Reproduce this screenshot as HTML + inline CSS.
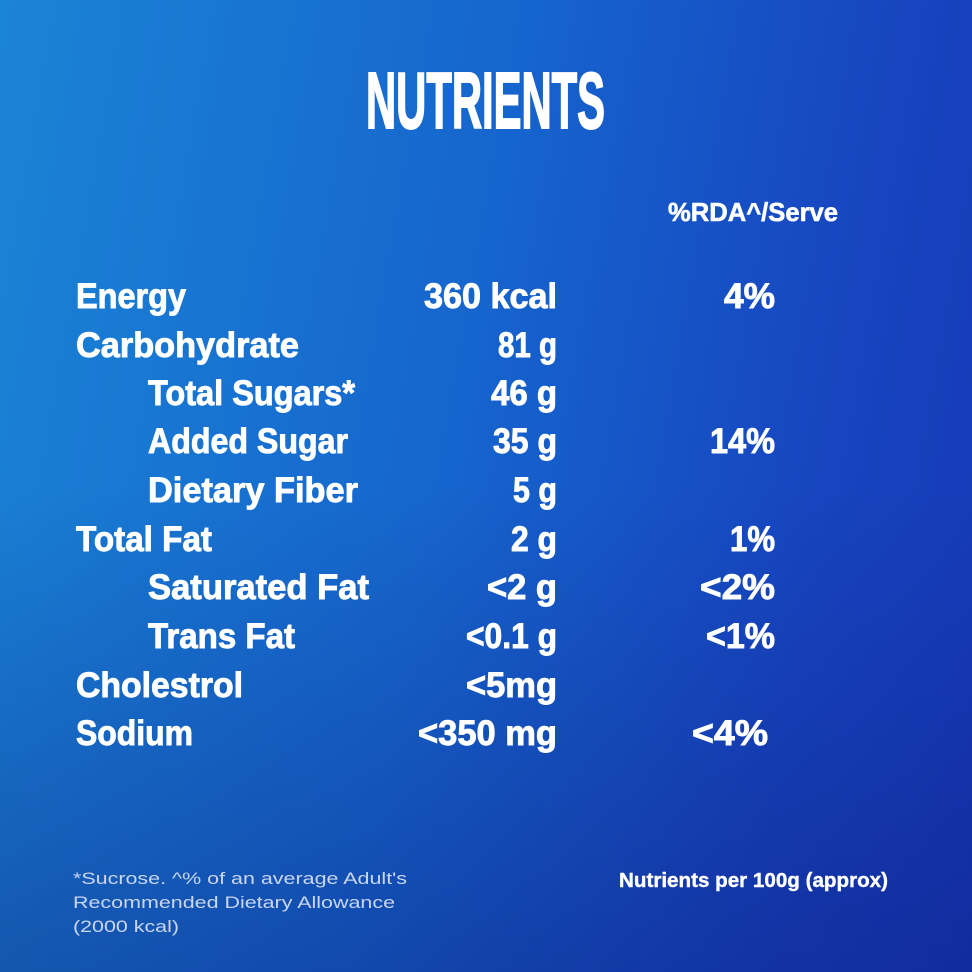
<!DOCTYPE html>
<html><head><meta charset="utf-8"><style>
html,body{margin:0;padding:0;width:972px;height:972px;overflow:hidden}
body{background:linear-gradient(100deg,#1a84d5 0%,#1666ce 45%,#1744c0 80%,#1638b7 100%)}
.ov{position:absolute;left:0;top:0;width:972px;height:972px;background:linear-gradient(180deg,rgba(0,0,0,0) 50%,rgba(10,20,110,0.35) 100%)}
svg{position:absolute;left:0;top:0}
text{font-family:"Liberation Sans Narrow","Liberation Sans",sans-serif;font-weight:bold;fill:#fff}
.r{font-size:35px;stroke:#fff;stroke-width:0.9}
.f{font-family:"Liberation Sans",sans-serif;font-weight:normal;fill:#c9d6f2;font-size:17px;stroke:none}
</style></head><body><div class="ov"></div>
<svg width="972" height="972" xmlns="http://www.w3.org/2000/svg">
<text x="366" y="128" font-size="80" stroke="#fff" stroke-width="2" textLength="239" lengthAdjust="spacingAndGlyphs">NUTRIENTS</text>
<text x="668" y="221" font-size="26" stroke="#fff" stroke-width="0.6" textLength="170" lengthAdjust="spacingAndGlyphs">%RDA^/Serve</text>
<g class="r">
<text x="76" y="308" textLength="110" lengthAdjust="spacingAndGlyphs">Energy</text>
<text x="424" y="308" textLength="133" lengthAdjust="spacingAndGlyphs">360 kcal</text>
<text x="724" y="308" textLength="51" lengthAdjust="spacingAndGlyphs">4%</text>
<text x="76" y="357" textLength="223" lengthAdjust="spacingAndGlyphs">Carbohydrate</text>
<text x="498" y="357" textLength="59" lengthAdjust="spacingAndGlyphs">81 g</text>
<text x="148" y="405" textLength="207" lengthAdjust="spacingAndGlyphs">Total Sugars*</text>
<text x="491" y="405" textLength="66" lengthAdjust="spacingAndGlyphs">46 g</text>
<text x="148" y="453" textLength="200" lengthAdjust="spacingAndGlyphs">Added Sugar</text>
<text x="493" y="453" textLength="64" lengthAdjust="spacingAndGlyphs">35 g</text>
<text x="710" y="453" textLength="65" lengthAdjust="spacingAndGlyphs">14%</text>
<text x="148" y="502" textLength="210" lengthAdjust="spacingAndGlyphs">Dietary Fiber</text>
<text x="513" y="502" textLength="44" lengthAdjust="spacingAndGlyphs">5 g</text>
<text x="76" y="551" textLength="136" lengthAdjust="spacingAndGlyphs">Total Fat</text>
<text x="511" y="551" textLength="46" lengthAdjust="spacingAndGlyphs">2 g</text>
<text x="730" y="551" textLength="45" lengthAdjust="spacingAndGlyphs">1%</text>
<text x="148" y="599" textLength="221" lengthAdjust="spacingAndGlyphs">Saturated Fat</text>
<text x="487" y="599" textLength="70" lengthAdjust="spacingAndGlyphs">&lt;2 g</text>
<text x="700" y="599" textLength="75" lengthAdjust="spacingAndGlyphs">&lt;2%</text>
<text x="148" y="648" textLength="147" lengthAdjust="spacingAndGlyphs">Trans Fat</text>
<text x="466" y="648" textLength="91" lengthAdjust="spacingAndGlyphs">&lt;0.1 g</text>
<text x="706" y="648" textLength="69" lengthAdjust="spacingAndGlyphs">&lt;1%</text>
<text x="76" y="697" textLength="167" lengthAdjust="spacingAndGlyphs">Cholestrol</text>
<text x="466" y="697" textLength="91" lengthAdjust="spacingAndGlyphs">&lt;5mg</text>
<text x="76" y="745" textLength="117" lengthAdjust="spacingAndGlyphs">Sodium</text>
<text x="418" y="745" textLength="139" lengthAdjust="spacingAndGlyphs">&lt;350 mg</text>
<text x="692" y="745" textLength="76" lengthAdjust="spacingAndGlyphs">&lt;4%</text>
</g>
<text class="f" x="73" y="884" textLength="334" lengthAdjust="spacingAndGlyphs">*Sucrose. ^% of an average Adult's</text>
<text class="f" x="73" y="908" textLength="322" lengthAdjust="spacingAndGlyphs">Recommended Dietary Allowance</text>
<text class="f" x="73" y="932" textLength="106" lengthAdjust="spacingAndGlyphs">(2000 kcal)</text>
<text x="619" y="887" font-size="20" stroke="#fff" stroke-width="0.4" textLength="269" lengthAdjust="spacingAndGlyphs">Nutrients per 100g (approx)</text>
</svg></body></html>
